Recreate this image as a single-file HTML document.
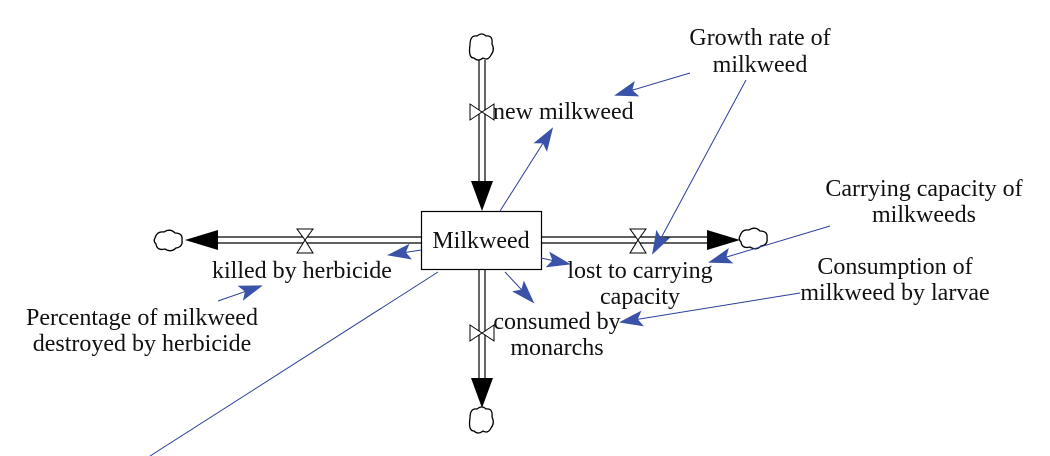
<!DOCTYPE html>
<html><head><meta charset="utf-8"><style>
html,body{margin:0;padding:0;background:#fff;width:1050px;height:456px;overflow:hidden}
svg text{font-family:"Liberation Serif",serif;font-size:24px;fill:#111}
</style></head><body>
<svg width="1050" height="456" viewBox="0 0 1050 456">
<defs>
<marker id="b" markerWidth="24" markerHeight="16" refX="22" refY="8" orient="auto" markerUnits="userSpaceOnUse">
<path d="M0,0 L24,8 L0,16 L5,8 Z" fill="#3a52a8"/>
</marker>
</defs>
<g stroke="#000" fill="none" stroke-width="1.2">
<line x1="479" y1="60" x2="479" y2="182"/><line x1="485" y1="60" x2="485" y2="182"/>
<line x1="479" y1="269" x2="479" y2="380"/><line x1="485" y1="269" x2="485" y2="380"/>
<line x1="541" y1="237" x2="708" y2="237"/><line x1="541" y1="243" x2="708" y2="243"/>
<line x1="218" y1="237" x2="421" y2="237"/><line x1="218" y1="243" x2="421" y2="243"/>
</g>
<g fill="#000">
<polygon points="471,181 493,181 482,211"/>
<polygon points="471,378 493,378 482,408"/>
<polygon points="707,230 707,250 740,240"/>
<polygon points="218,230 218,250 185,240"/>
</g>
<g stroke="#000" fill="#fff" stroke-width="1">
<polygon points="470,104 470,120 482,112 494,104 494,120 482,112"/>
<polygon points="470,325 470,341 482,333 494,325 494,341 482,333"/>
<polygon points="630,229 646,229 638,240 646,253 630,253 638,240"/>
<polygon points="297,229 313,229 305,240 313,253 297,253 305,240"/>
</g>
<g stroke="#000" fill="#fff" stroke-width="1.3">
<path d="M470,45 q0,-10 7,-9 q5,-4 9,0 q7,-1 6,8 q3,6 -1,11 q-3,6 -8,3 q-5,4 -9,0 q-6,0 -4,-13 z"/>
<path d="M470,418 q0,-10 7,-9 q5,-4 9,0 q7,-1 6,8 q3,6 -1,11 q-3,6 -8,3 q-5,4 -9,0 q-6,0 -4,-13 z"/>
<path d="M740,236 q2,-7 9,-6 q6,-4 11,1 q8,0 7,7 q1,7 -6,8 q-5,5 -11,1 q-8,2 -9,-5 q-3,-3 -1,-6 z"/>
<path d="M155,238 q2,-7 9,-6 q6,-4 11,1 q8,0 7,7 q1,7 -6,8 q-5,5 -11,1 q-8,2 -9,-5 q-3,-3 -1,-6 z"/>
</g>
<rect x="421.5" y="211.5" width="120" height="58" fill="#fff" stroke="#000" stroke-width="1.2"/>
<text x="481" y="248" text-anchor="middle">Milkweed</text>
<g stroke="#2a3f9a" stroke-width="1" fill="none" marker-end="url(#b)">
<line x1="690" y1="73" x2="616" y2="95"/>
<line x1="746" y1="80" x2="653" y2="253"/>
<line x1="500" y1="211" x2="552" y2="129"/>
<line x1="541" y1="258" x2="569" y2="264"/>
<line x1="421" y1="250" x2="389" y2="255"/>
<line x1="505" y1="272" x2="533" y2="302"/>
<line x1="830" y1="226" x2="710" y2="262"/>
<line x1="800" y1="293" x2="621" y2="322"/>
<line x1="218" y1="301" x2="261" y2="286"/>
</g>
<line x1="438" y1="272" x2="150" y2="456" stroke="#2a3f9a" stroke-width="1"/>
<text x="493" y="119">new milkweed</text>
<g text-anchor="middle">
<text x="760" y="45">Growth rate of</text>
<text x="760" y="72">milkweed</text>
<text x="924" y="196">Carrying capacity of</text>
<text x="924" y="222">milkweeds</text>
<text x="895" y="274">Consumption of</text>
<text x="895" y="300">milkweed by larvae</text>
<text x="640" y="278">lost to carrying</text>
<text x="640" y="304">capacity</text>
<text x="557" y="329">consumed by</text>
<text x="557" y="355">monarchs</text>
<text x="302" y="278">killed by herbicide</text>
<text x="142" y="325">Percentage of milkweed</text>
<text x="142" y="351">destroyed by herbicide</text>
</g>
</svg>
</body></html>
